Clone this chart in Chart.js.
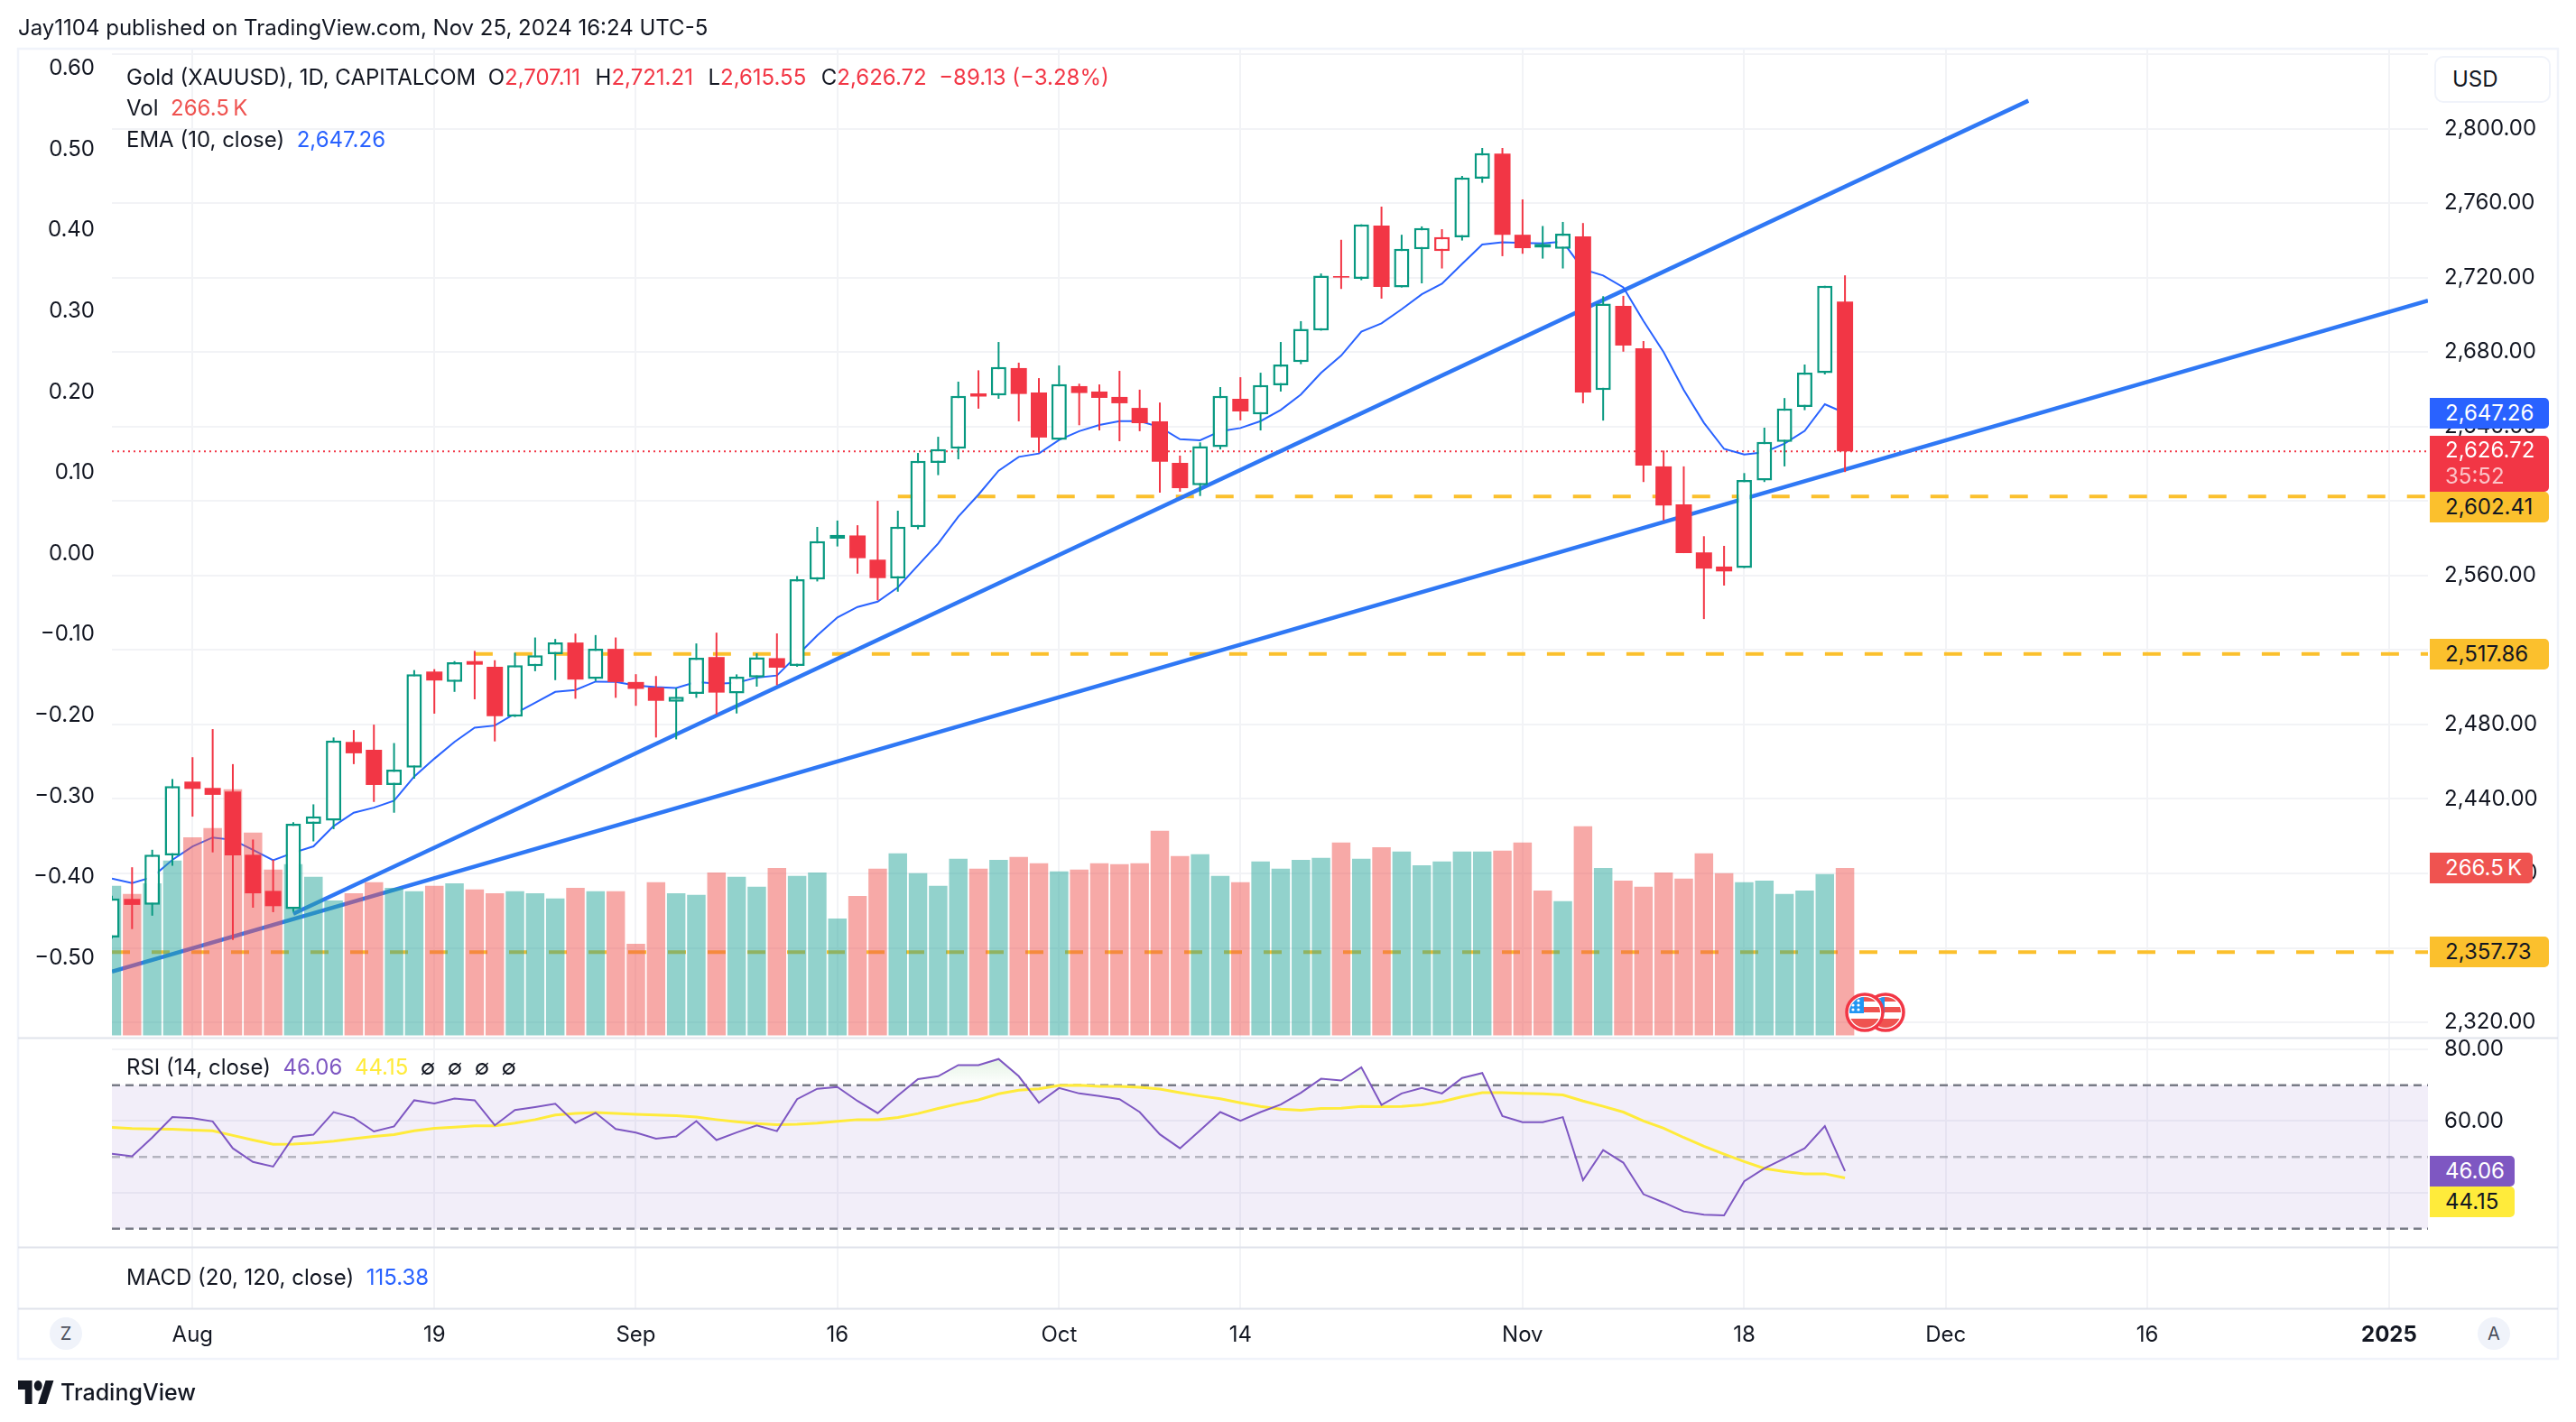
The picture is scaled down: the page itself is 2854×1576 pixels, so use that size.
<!DOCTYPE html>
<html>
<head>
<meta charset="utf-8">
<title>Gold (XAUUSD) 1D</title>
<script src="https://cdn.jsdelivr.net/npm/chart.js@4/dist/chart.umd.min.js"></script>
<style>
  html, body { margin: 0; padding: 0; background: #fff; }
  #page { position: relative; width: 2854px; height: 1576px; overflow: hidden; font-family: Inter, "Noto Sans", sans-serif; color: #131722; }
  #chart { position: absolute; left: 0; top: 0; }
  .txt { position: absolute; font-size: 24px; line-height: 30px; white-space: pre; transform: translateY(-50%); }
  .badge { position: absolute; left: 2692px; width: 132px; height: 34px; box-sizing: border-box; padding-left: 17px; font-size: 24px; line-height: 34px; border-radius: 0 5px 5px 0; white-space: pre; }
  .red { color: #f23645; } .blue { color: #2962ff; } .vol { color: #ef5350; } .purple { color: #7e57c2; } .yellow { color: #ffeb3b; }
  .gap { margin-left: 3px; }
  #usd { position: absolute; left: 2697px; top: 62px; width: 129px; height: 52px; box-sizing: border-box; border: 2px solid #f0f3fa; border-radius: 10px; background: #fff; padding-left: 18px; font-size: 24px; line-height: 48px; }
  .round { position: absolute; width: 36px; height: 36px; top: 1460px; border-radius: 50%; background: #f0f3fa; text-align: center; font-size: 20px; line-height: 36px; color: #4a4e5a; }
</style>
</head>
<body>
<div id="page"><canvas id="chart" width="2854" height="1576"></canvas></div>
<script>
// daily candles, Jul 26 to Nov 25 2024
const candleOpen = [2365.6,2386.3,2383.1,2409.7,2449.3,2445.9,2444,2410,2390.6,2380.8,2426.7,2428.4,2470.6,2466.4,2447.5,2456.8,2508.4,2502.8,2514,2511,2484.2,2511.3,2517.7,2524,2504.4,2520.6,2502.8,2499.9,2492.2,2496.4,2516.2,2496.7,2505.3,2515.6,2511.4,2557.8,2579.8,2581.5,2568.5,2558.5,2585.9,2620.5,2628.1,2657.8,2656.7,2671.4,2658.3,2632.9,2661.7,2658.8,2655.9,2650,2642.8,2620.5,2608.5,2629,2654.9,2646.5,2662.2,2674.6,2691.6,2720.8,2719.3,2747.9,2714.8,2735.2,2734.3,2741.6,2773.1,2786.6,2743,2738,2735.4,2742.1,2659.6,2704.8,2682,2618.6,2598.2,2572.4,2564.8,2564,2611,2631.8,2650.5,2668.7,2707.11];
const candleHigh = [2388,2403.3,2412.7,2450.7,2462.4,2477.5,2458.7,2418.2,2407.3,2427.5,2437.1,2473,2477,2479.9,2470,2509.2,2509.7,2514,2519.5,2514.5,2518.5,2526.7,2525.9,2528.8,2528,2526.7,2507,2506,2499.6,2523.5,2529.3,2506.9,2518.2,2528.9,2559.7,2586.1,2589.5,2587,2600.1,2594.8,2625.8,2634.5,2664.1,2670.2,2685.4,2674.3,2666,2672.8,2663,2662.6,2669.9,2659.8,2652.9,2624.4,2631.5,2661.2,2666.5,2668.9,2685.4,2696.6,2722.2,2740.3,2748.6,2758.1,2743,2747.5,2746,2774.6,2789.6,2789.6,2762,2747.7,2749.9,2749.3,2710,2710.2,2685.9,2627.1,2618.6,2581.1,2575.9,2615,2639.4,2655.3,2673.3,2715.6,2721.21];
const candleLow = [2365,2370.1,2377.3,2404.1,2430.5,2411.3,2364.3,2381.6,2379.2,2379.4,2417.2,2423.8,2458.7,2438.4,2432.6,2450.9,2485.8,2497.5,2493.5,2470.9,2484,2508.6,2503.8,2493.8,2503.3,2494.3,2490,2473,2472,2494.3,2485.3,2485.9,2500.3,2501.1,2511,2556.8,2575.6,2561,2546.7,2551.3,2584.8,2613.9,2622.4,2649.6,2654.9,2642.8,2626,2632.7,2640.7,2637.9,2632.1,2637.5,2604.5,2605,2602.7,2627.7,2643.3,2637.9,2658.8,2673.5,2691.5,2713.9,2718.6,2708.7,2714.7,2716.9,2724.9,2739.9,2770.9,2731.5,2732.8,2730.2,2724.9,2652.5,2643.2,2680.2,2610.2,2589.6,2572,2536.6,2554.6,2564,2610.2,2618.6,2648.8,2668,2615.55];
const candleClose = [2386.6,2383.1,2410,2446.9,2445.4,2442.2,2409.7,2389.3,2382.4,2426.7,2430.7,2471.4,2464.5,2447.5,2455.7,2507,2503.6,2513.4,2512.1,2484.4,2511.8,2517.1,2524,2504.1,2520.6,2502.8,2499.1,2492.7,2494.8,2515.8,2497.1,2505.6,2516,2510.5,2558,2578.5,2581.9,2569.3,2558.6,2586.2,2621.6,2627.9,2656.5,2656.1,2672,2657.5,2634.1,2662.8,2658,2655.4,2652.5,2641.8,2621.1,2606.9,2629.4,2656.5,2648.1,2662.3,2673.3,2692.4,2721,2720,2748.6,2715,2735.4,2746.6,2741.7,2773.8,2786.8,2743,2735.8,2736.2,2743.6,2658.3,2706,2683.5,2619,2597.6,2572,2563.7,2562.2,2611.3,2631.8,2649.7,2669,2715.6,2626.72];
const volumeK = [237.8,224.9,242.1,278,315.3,329.7,391.4,322.5,263.7,272.3,252.2,214.8,226.3,243.6,234.9,229.2,237.8,242.1,232.1,226.3,229.2,226.3,217.7,234.9,229.2,229.2,145.9,243.6,226.3,223.5,259.3,252.2,236.4,266.5,253.6,259.3,186.1,222,265.1,289.5,257.9,237.8,280.9,265.1,279.4,283.8,273.7,260.8,263.7,273.7,272.3,273.7,325.4,285.2,288.1,253.6,243.6,276.6,265.1,279.4,282.3,306.7,280.9,299.5,292.4,270.8,276.6,292.4,292.4,293.8,306.7,230.6,213.4,332.6,266.5,246.4,236.4,259.3,249.3,289.5,257.9,243.6,246.4,224.9,230.6,256.5,266.5];
const emaValues = [2397.2,2394.8,2398,2407.3,2414.5,2419.3,2418,2412.7,2407.1,2411.1,2414.5,2425.4,2432.6,2435.3,2439,2452,2461.6,2470.6,2478.3,2479.4,2485.8,2491.6,2497.5,2498.5,2503,2502.8,2500.9,2500.1,2499.6,2502.8,2501.9,2502.4,2505.2,2506.3,2517,2527.8,2537.5,2543.1,2546,2553.6,2565.4,2577.2,2591.6,2603.4,2616.3,2623.7,2625.5,2632.8,2637.5,2640.8,2642.9,2642.9,2639.7,2633.2,2632.6,2637.5,2639.2,2642.9,2648.9,2657.2,2668.8,2678.1,2690.9,2695.4,2703,2711,2716.7,2727.3,2737.8,2739,2738.6,2738.4,2739.3,2724.5,2721.1,2714.8,2696.7,2680,2659.6,2642,2628,2625,2626.2,2630.8,2637.7,2652,2647.26];
const rsiValues = [50.9,50.2,55.4,61.1,60.8,59.9,52.4,48.6,47.3,55.6,56.2,62.5,60.9,57.1,58.5,65.8,64.9,66.3,65.8,58.8,63.1,63.9,64.8,59.5,62.3,57.8,56.8,55.1,55.7,60,54.7,56.8,58.8,57.2,66.1,69,69.5,65.6,62.2,67.1,71.7,72.5,75.6,75.6,77.3,72.5,65.1,69.2,67.7,67,66.1,62.5,56.3,52.4,57.4,62.5,60.1,62.5,64.6,67.9,71.8,71.3,75,64.5,67.7,69.2,67.7,72,73.4,61.4,59.7,59.7,61.1,43.5,51.9,48.4,39.6,37.3,34.8,33.9,33.7,43.2,46.8,49.6,52.4,58.6,46.06];
const rsiAverage = [58.2,57.9,57.8,57.7,57.5,57.3,56,54.7,53.5,53.6,53.9,54.4,55.1,55.7,56.2,57.3,58,58.3,58.7,58.7,59.4,60.4,61.7,62.1,62.4,62.1,61.9,61.7,61.5,61.1,60.4,59.8,59.3,59,59.1,59.4,59.9,60.4,60.4,61,62.1,63.5,64.8,65.9,67.6,68.6,69,69.9,70,69.7,69.7,69.4,68.9,67.9,67,66.2,65.1,64.1,63.3,63,63.5,63.6,64.1,64,64.1,64.5,65.4,66.8,67.9,67.9,67.7,67.6,67.3,65.6,64.1,62.5,60,58,55.4,53,50.8,48.7,46.8,45.9,45.3,45.3,44.15];

// drawn levels and trend lines, [bar index, price]
const trendUpper = [[9, 2378.3], [95.1, 2815]];
const trendLower = [[0, 2347.3], [114.93, 2707.6]];
const levelHigh = [39, 2602.41];
const levelMid = [18, 2517.86];
const levelLow = [0, 2357.73];
const lastPrice = 2626.72;

const timeTicks = [4, 16, 26, 36, 47, 56, 70, 81, 91, 101, 113];
const timeLabels = ['Aug', '19', 'Sep', '16', 'Oct', '14', 'Nov', '18', 'Dec', '16', '2025'];
const priceTicks = [2840, 2800, 2760, 2720, 2680, 2640, 2600, 2560, 2520, 2480, 2440, 2400, 2360, 2320];
const rsiTicks = [80, 60, 40];
const leftTicks = [0.6, 0.5, 0.4, 0.3, 0.2, 0.1, 0, -0.1, -0.2, -0.3, -0.4, -0.5];
const eventBars = [87, 88];

const lastBar = 114.93;
const RED = '#f23645';
const GREEN = '#089981';
const AMBER = '#fbc02d';
const TREND = '#2f78f5';
const GRID = '#f2f3f6';
const TEXT = '#131722';

const rising = i => i === 0 || candleClose[i] >= candleClose[i - 1];
const candleColor = ctx => (ctx.raw && rising(ctx.raw.x) ? GREEN : RED);
const toPoints = pairs => pairs.map(p => ({ x: p[0], y: p[1] }));
const level = (start, price) => toPoints([[start, price], [lastBar, price]]);
const series = values => values.map((y, x) => ({ x, y }));

const bodies = candleOpen.map((o, x) => ({ x, y: [o, candleClose[x]] }));
const hollow = bodies.filter(b => candleClose[b.x] > candleOpen[b.x]);
const solid = bodies.filter(b => candleClose[b.x] <= candleOpen[b.x]);
const wicks = candleLow.map((l, x) => ({ x, y: [l, candleHigh[x]] }));

const page = document.getElementById('page');
const ctx = document.getElementById('chart').getContext('2d');

const overbought = ctx.createLinearGradient(0, 1160, 0, 1203);
overbought.addColorStop(0, 'rgba(76, 175, 80, 0.22)');
overbought.addColorStop(1, 'rgba(76, 175, 80, 0)');

const lineSet = (data, yAxisID, color, width, order, extra) =>
  Object.assign({ type: 'line', data, yAxisID, borderColor: color, borderWidth: width, order, pointRadius: 0, tension: 0, fill: false }, extra);

const drawFrame = {
  id: 'drawFrame',
  afterDatasetsDraw(chart) {
    const c = chart.ctx;
    c.save();
    c.strokeStyle = '#f0f3fa';
    c.lineWidth = 2.5;
    c.strokeRect(20, 54, 2814, 1452);
    c.strokeStyle = '#e0e3eb';
    c.lineWidth = 2;
    [chart.scales.yRsi.top, chart.scales.yMacd.top, chart.scales.yMacd.bottom].forEach(y => {
      c.beginPath();
      c.moveTo(20, Math.round(y) + 0.5);
      c.lineTo(2834, Math.round(y) + 0.5);
      c.stroke();
    });
    c.restore();
  },
};

const chart = new Chart(ctx, {
  data: {
    datasets: [
      lineSet(level(0, 70), 'yRsi', '#787b86', 2.5, 40, { borderDash: [9, 6], fill: { target: { value: 30 }, above: 'rgba(126, 87, 194, 0.1)', below: 'rgba(126, 87, 194, 0.1)' } }),
      lineSet(level(0, 50), 'yRsi', 'rgba(120, 123, 134, 0.5)', 2.5, 39, { borderDash: [9, 6] }),
      lineSet(level(0, 30), 'yRsi', '#787b86', 2.5, 38, { borderDash: [9, 6] }),
      lineSet(series(rsiAverage), 'yRsi', '#ffeb3b', 3, 37),
      lineSet(series(rsiValues), 'yRsi', '#7e57c2', 2, 36, { fill: { target: { value: 70 }, above: overbought, below: 'rgba(0, 0, 0, 0)' } }),
      lineSet(level(0, lastPrice), 'yPrice', RED, 2, 30, { borderDash: [2, 4] }),
      lineSet(level(levelHigh[0], levelHigh[1]), 'yPrice', AMBER, 4, 29, { borderDash: [20, 24] }),
      lineSet(level(levelMid[0], levelMid[1]), 'yPrice', AMBER, 4, 28, { borderDash: [20, 24] }),
      lineSet(level(levelLow[0], levelLow[1]), 'yPrice', AMBER, 4, 27, { borderDash: [20, 24] }),
      lineSet(toPoints(trendUpper), 'yPrice', TREND, 4.5, 26),
      lineSet(toPoints(trendLower), 'yPrice', TREND, 4.5, 25),
      lineSet(series(emaValues), 'yPrice', '#2962ff', 2, 24),
      {
        type: 'bar', data: series(volumeK), yAxisID: 'yVol', order: 20, grouped: false, barThickness: 20.5, inflateAmount: 0, borderWidth: 0,
        backgroundColor: c => (c.raw && candleClose[c.raw.x] >= candleOpen[c.raw.x] ? 'rgba(38, 166, 154, 0.5)' : 'rgba(239, 83, 80, 0.5)'),
      },
      {
        type: 'bar', data: wicks, yAxisID: 'yPrice', order: 10, grouped: false, barThickness: 2, inflateAmount: 0, borderWidth: 0,
        backgroundColor: candleColor,
      },
      {
        type: 'bar', data: solid, yAxisID: 'yPrice', order: 9, grouped: false, barThickness: 18, inflateAmount: 0, borderWidth: 0, borderSkipped: false,
        backgroundColor: candleColor,
      },
      {
        type: 'bar', data: hollow, yAxisID: 'yPrice', order: 8, grouped: false, barThickness: 17, inflateAmount: 0, borderWidth: 2.5, borderSkipped: false,
        backgroundColor: '#ffffff', borderColor: candleColor,
      },
    ],
  },
  options: {
    responsive: false,
    animation: false,
    devicePixelRatio: 1,
    events: [],
    layout: { padding: { top: 53, left: 0, right: 0, bottom: 0 } },
    plugins: { legend: { display: false }, tooltip: { enabled: false }, title: { display: false } },
    font: { family: 'Inter' },
    scales: {
      x: {
        type: 'linear',
        position: 'bottom',
        offset: false,
        min: 0,
        max: lastBar,
        afterBuildTicks: s => { s.ticks = timeTicks.map(value => ({ value })); },
        afterFit: s => { s.height = 126; },
        grid: { color: GRID, lineWidth: 2, drawTicks: false, offset: false },
        border: { display: false },
        ticks: {
          autoSkip: false,
          maxRotation: 0,
          padding: 15,
          color: TEXT,
          font: c => ({ family: 'Inter', size: 24, weight: c.tick && c.tick.value === 113 ? '700' : '400' }),
          callback: v => timeLabels[timeTicks.indexOf(v)],
        },
      },
      yLeft: {
        type: 'linear',
        position: 'left',
        min: -0.9336,
        max: 0.6256,
        afterBuildTicks: s => { s.ticks = leftTicks.map(value => ({ value })); },
        afterFit: s => { s.width = 124; },
        grid: { display: false, drawTicks: false },
        border: { display: false },
        ticks: {
          autoSkip: false,
          padding: 19,
          color: TEXT,
          font: { family: 'Inter', size: 24 },
          callback: v => v.toFixed(2).replace('-', '\u2212'),
        },
      },
      yVol: { type: 'linear', position: 'right', display: false, min: -434.2, max: 1571.2 },
      yPrice: {
        type: 'linear',
        position: 'right',
        stack: 'panes',
        stackWeight: 1097,
        min: 2311.8,
        max: 2843.4,
        afterBuildTicks: s => { s.ticks = priceTicks.map(value => ({ value })); },
        afterFit: s => { s.width = 164; },
        grid: { color: GRID, lineWidth: 2, drawTicks: false },
        border: { display: false },
        ticks: {
          autoSkip: false,
          padding: 18,
          color: TEXT,
          font: { family: 'Inter', size: 24 },
          callback: v => (v === 2840 ? '' : v.toLocaleString('en-US', { minimumFractionDigits: 2 })),
        },
      },
      yRsi: {
        type: 'linear',
        position: 'right',
        stack: 'panes',
        stackWeight: 232,
        min: 24.9,
        max: 83.26,
        afterBuildTicks: s => { s.ticks = rsiTicks.map(value => ({ value })); },
        afterFit: s => { s.width = 164; },
        grid: { color: GRID, lineWidth: 2, drawTicks: false },
        border: { display: false },
        ticks: {
          autoSkip: false,
          padding: 18,
          color: TEXT,
          font: { family: 'Inter', size: 24 },
          callback: v => v.toFixed(2),
        },
      },
      yMacd: {
        type: 'linear',
        position: 'right',
        stack: 'panes',
        stackWeight: 68,
        display: false,
        min: 0,
        max: 1,
      },
    },
  },
  plugins: [drawFrame],
});

// header, pane legends and axis badges as page text
function addText(x, y, html) {
  const d = document.createElement('div');
  d.className = 'txt';
  d.style.left = x + 'px';
  d.style.top = y + 'px';
  d.innerHTML = html;
  page.appendChild(d);
  return d;
}

function addBadge(top, html, bg, color, width) {
  const d = document.createElement('div');
  d.className = 'badge';
  d.style.top = top + 'px';
  d.style.background = bg;
  d.style.color = color;
  if (width) d.style.width = width + 'px';
  d.innerHTML = html;
  page.appendChild(d);
  return d;
}

addText(20, 31, 'Jay1104 published on TradingView.com, Nov 25, 2024 16:24 UTC-5');
addText(140, 85.5, 'Gold (XAUUSD), 1D, CAPITALCOM  O<span class="red">2,707.11</span>  <span class="gap">H</span><span class="red">2,721.21</span>  <span class="gap">L</span><span class="red">2,615.55</span>  <span class="gap">C</span><span class="red">2,626.72</span>  <span class="red">\u221289.13 (\u22123.28%)</span>');
addText(140, 120, 'Vol  <span class="vol">266.5\u2009K</span>');
addText(140, 154.5, 'EMA (10, close)  <span class="blue">2,647.26</span>');
addText(140, 1183, 'RSI (14, close)  <span class="purple">46.06</span>  <span class="yellow">44.15</span>  \u2205  \u2205  \u2205  \u2205');
addText(140, 1416, 'MACD (20, 120, close)  <span class="blue">115.38</span>');

const usd = document.createElement('div');
usd.id = 'usd';
usd.textContent = 'USD';
page.appendChild(usd);

const yPrice = chart.scales.yPrice;
const yRsi = chart.scales.yRsi;
const mid = (scale, v) => scale.getPixelForValue(v) - 17;

addBadge(mid(yPrice, emaValues[86]), '2,647.26', '#2962ff', '#fff');
const lastBadge = addBadge(mid(yPrice, lastPrice), '2,626.72<br><span style="opacity:.7">35:52</span>', RED, '#fff');
lastBadge.style.height = '62px';
lastBadge.style.lineHeight = '29px';
lastBadge.style.paddingTop = '1px';
addBadge(545, '2,602.41', AMBER, TEXT);
addBadge(mid(yPrice, levelMid[1]), '2,517.86', AMBER, TEXT);
addBadge(945, '266.5\u2009K', '#ef5350', '#fff', 114);
addBadge(mid(yPrice, levelLow[1]), '2,357.73', AMBER, TEXT);
addBadge(mid(yRsi, rsiValues[86]), '46.06', '#7e57c2', '#fff', 94);
addBadge(mid(yRsi, rsiValues[86]) + 34, '44.15', '#ffeb3b', TEXT, 94);

// economic event flags past the last bar
function addFlag(i) {
  const cx = chart.scales.x.getPixelForValue(i);
  const id = 'clip' + i;
  const d = document.createElement('div');
  d.style.cssText = 'position:absolute;left:' + (cx - 22) + 'px;top:1100px;width:44px;height:44px';
  d.innerHTML = '<svg width="44" height="44" viewBox="0 0 44 44"><defs><clipPath id="' + id + '"><circle cx="22" cy="22" r="17"/></clipPath></defs>' +
    '<circle cx="22" cy="22" r="20" fill="#fff" stroke="' + RED + '" stroke-width="3.5"/>' +
    '<g clip-path="url(#' + id + ')"><rect x="0" y="0" width="44" height="44" fill="#fff"/>' +
    '<rect x="0" y="4" width="44" height="6" fill="#ef5350"/><rect x="0" y="16" width="44" height="6" fill="#ef5350"/><rect x="0" y="29" width="44" height="10" fill="#ef5350"/>' +
    '<rect x="0" y="4" width="21" height="19" fill="#2196f3"/>' +
    '<g fill="#fff"><circle cx="9" cy="9" r="1.6"/><circle cx="15" cy="9" r="1.6"/><circle cx="9" cy="14" r="1.6"/><circle cx="15" cy="14" r="1.6"/><circle cx="9" cy="19" r="1.6"/><circle cx="15" cy="19" r="1.6"/></g></g></svg>';
  page.appendChild(d);
}
eventBars.slice().reverse().forEach(addFlag);

// zoom and auto buttons, footer logo
[['Z', 55], ['A', 2745]].forEach(([t, left]) => {
  const b = document.createElement('div');
  b.className = 'round';
  b.style.left = left + 'px';
  b.textContent = t;
  page.appendChild(b);
});
const logo = document.createElement('div');
logo.style.cssText = 'position:absolute;left:20px;top:1530px;width:40px;height:26px';
logo.innerHTML = '<svg width="40" height="26" viewBox="0 4 36 18" preserveAspectRatio="none" fill="#131722"><path d="M14 22H7V11H0V4h14v18zM28 22h-8l7.5-18h8L28 22z"/><circle cx="20" cy="8" r="4"/></svg>';
page.appendChild(logo);
const footer = addText(67, 1543, 'TradingView');
footer.style.fontSize = '25px';
footer.style.fontWeight = '500';
</script>
</body>
</html>
